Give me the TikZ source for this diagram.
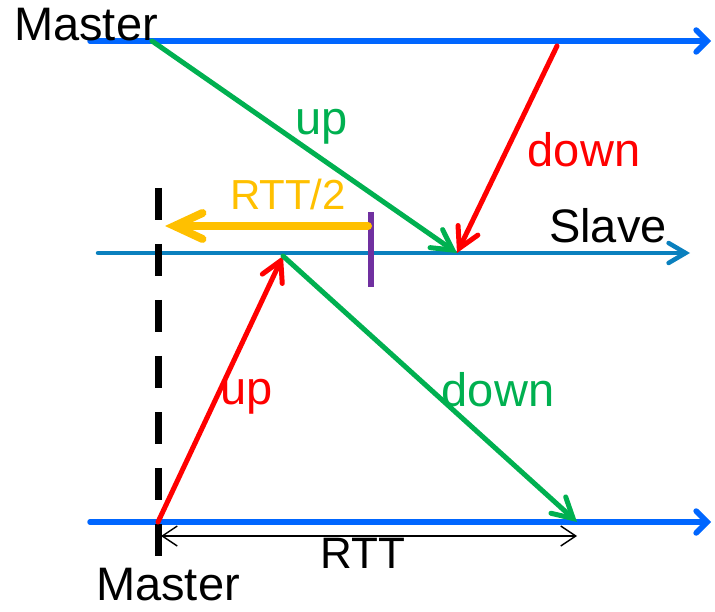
\documentclass[tikz,border=0pt]{standalone}
\usepackage{fontspec}
\setmainfont{Liberation Sans}
\usetikzlibrary{arrows.meta}

\definecolor{mblue}{HTML}{0066FF}
\definecolor{sblue}{HTML}{0A80BE}
\definecolor{mgreen}{HTML}{00B050}
\definecolor{mred}{HTML}{FF0000}
\definecolor{myellow}{HTML}{FFC000}
\definecolor{mpurple}{HTML}{7030A0}

\tikzset{
  lbl/.style={inner sep=0pt, font=\fontsize{47}{47}\selectfont},
  timeline/.style={line width=5.5pt, line cap=round, -{Straight Barb[length=11pt,width=22pt,line cap=round]}},
  msg/.style={line width=5pt, line cap=round, -{Straight Barb[length=20pt,width=22pt,line cap=round]}},
}

\begin{document}
\begin{tikzpicture}[x=1pt,y=-1pt]
        \useasboundingbox (0,0) rectangle (715,612);

        % time lines
        \coordinate (m1s) at (90,41);
        \coordinate (m1e) at (711,41);
        \coordinate (ss) at (98,253);
        \coordinate (se) at (690,253);
        \coordinate (m2s) at (90,522);
        \coordinate (m2e) at (711,522);

        \coordinate (t1) at (152,41);
        \coordinate (t2) at (557,46);
        \coordinate (t3) at (457,253);
        \coordinate (t4) at (158,522);
        \coordinate (t5) at (283,256);
        \coordinate (t6) at (577,522);

        \coordinate (d1) at (158,188);
        \coordinate (d2) at (158,556);
        \coordinate (p1) at (371,212);
        \coordinate (p2) at (371,287);
        \coordinate (h1) at (368,226);
        \coordinate (h2) at (165,226);
        \coordinate (r1) at (161,536);
        \coordinate (r2) at (577,536);

        \draw[timeline, draw=mblue] (m1s) -- (m1e);
        \draw[timeline, draw=sblue, line width=4.5pt, -{Straight Barb[length=17pt,width=20pt,line cap=round]}] (ss) -- (se);
        \draw[timeline, draw=mblue] (m2s) -- (m2e);

        \node[lbl, anchor=base west] (mtop) at (14,41) {Master};
        \node[lbl, anchor=base west] (slave) at (549,243) {Slave};
        \node[lbl, anchor=base west] (mbot) at (96,600) {Master};

        \draw[line width=7pt, dash pattern=on 32pt off 24pt] (d1) -- (d2);
        \draw[line width=6pt, draw=mpurple] (p1) -- (p2);

        \draw[msg, draw=mgreen] (t1) -- (t3);
        \draw[msg, draw=mred] (t2) -- (t3);
        \draw[msg, draw=mred] (t4) -- (t5);
        \draw[msg, draw=mgreen] (t5) -- (t6);

        \draw[line width=8pt, draw=myellow, line cap=round, -{Straight Barb[length=28pt,width=26pt,line cap=round]}] (h1) -- (h2);
        \draw[line width=1.4pt, {Straight Barb[length=15pt,width=20pt]}-{Straight Barb[length=15pt,width=20pt]}] (r1) -- (r2);

        \node[lbl, text=mgreen] (upa) at (322,127) {up};
        \node[lbl, text=mred] (downa) at (584,150) {down};
        \node[lbl, text=myellow, font=\fontsize{42}{42}\selectfont] (half) at (288,194) {RTT/2};
        \node[lbl, text=mred] (upb) at (247,397) {up};
        \node[lbl, text=mgreen] (downb) at (498,390) {down};
        \node[lbl, font=\fontsize{44}{44}\selectfont] (rtt) at (363,553) {RTT};
    \end{tikzpicture}
\end{document}
